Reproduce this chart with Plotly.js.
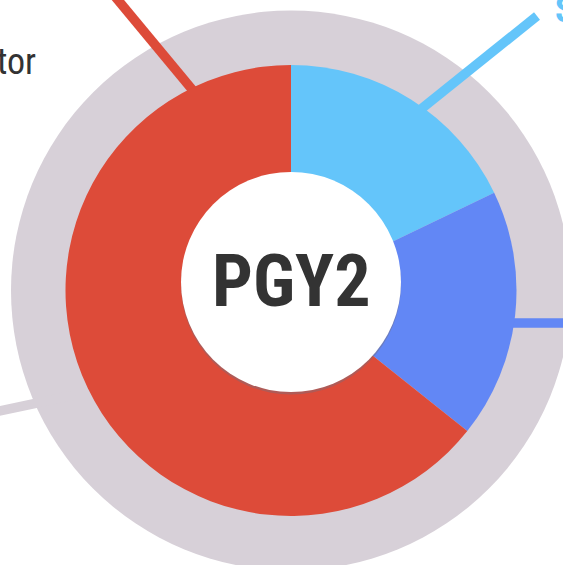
<!DOCTYPE html>
<html>
<head>
<meta charset="utf-8">
<script src="https://cdn.plot.ly/plotly-3.0.1.min.js"></script>
<style>
  html, body { margin: 0; padding: 0; background: #ffffff; }
  #chart { width: 563px; height: 565px; }
</style>
</head>
<body>
<div id="chart"></div>
<script>
// ---- data ----
const categories = ["Specialist", "Resident", "Preceptor"];
const values = [5, 5, 18];
const sliceColors = ["#64c5fa", "#6287f5", "#dd4b39"];
const centerLabel = "PGY2";
const leftLabel = "Preceptor";
const rightLabel = "S";

// ---- layout helpers (pixel -> paper) ----
const W = 563, H = 565;
const px = x => x / W;
const py = y => 1 - y / H;

const CX = 291, CY = 290.5, R = 225.5;     // donut
const RING_R = 280;                          // outer grey ring
const RING_COLOR = "#d7d0d8";
const TEXT_COLOR = "#333333";
const NARROW = "Liberation Sans Narrow, Roboto Condensed, Arial Narrow, Roboto, sans-serif";

const trace = {
  type: "pie",
  labels: categories,
  values: values,
  sort: false,
  direction: "clockwise",
  rotation: 0,
  hole: 0,
  textinfo: "none",
  hoverinfo: "label+value+percent",
  showlegend: false,
  marker: { colors: sliceColors, line: { width: 0 } },
  domain: { x: [px(CX - R), px(CX + R)], y: [py(CY + R), py(CY - R)] }
};

function line(x0, y0, x1, y1, color) {
  return { type: "line", xref: "paper", yref: "paper", layer: "below",
    x0: px(x0), y0: py(y0), x1: px(x1), y1: py(y1),
    line: { color: color, width: 9.5 } };
}

const shapes = [
  { type: "circle", xref: "paper", yref: "paper", layer: "below",
    x0: px(CX - RING_R), x1: px(CX + RING_R), y0: py(CY + RING_R), y1: py(CY - RING_R),
    fillcolor: RING_COLOR, line: { width: 0 } },
  line(205, 105, 98, -24, sliceColors[2]),
  line(400, 126, 537, 16, sliceColors[0]),
  line(495, 323, 580, 323, sliceColors[1]),
  line(75, 395, -10, 413, RING_COLOR),
  // shadow of centre disc
  { type: "circle", xref: "paper", yref: "paper", layer: "above",
    x0: px(CX - 110), x1: px(CX + 110), y0: py(282 + 112.5), y1: py(282 - 107.5),
    fillcolor: "rgba(120,110,125,0.45)", line: { width: 0 } },
  { type: "circle", xref: "paper", yref: "paper", layer: "above",
    x0: px(CX - 110), x1: px(CX + 110), y0: py(282 + 110), y1: py(282 - 110),
    fillcolor: "#ffffff", line: { width: 0 } }
];

const annotations = [
  { text: "<b>" + centerLabel + "</b>", xref: "paper", yref: "paper",
    x: px(CX), y: py(281), xanchor: "center", yanchor: "middle", showarrow: false,
    font: { family: NARROW, size: 72, color: TEXT_COLOR } },
  { text: leftLabel, xref: "paper", yref: "paper",
    x: px(38), y: py(62), xanchor: "right", yanchor: "middle", showarrow: false,
    font: { family: NARROW, size: 36, color: TEXT_COLOR } },
  { text: "<b>" + rightLabel + "</b>", xref: "paper", yref: "paper",
    x: px(553), y: py(10), xanchor: "left", yanchor: "middle", showarrow: false,
    font: { family: NARROW, size: 36, color: sliceColors[0] } }
];

const layout = {
  width: W, height: H,
  margin: { l: 0, r: 0, t: 0, b: 0 },
  paper_bgcolor: "#ffffff",
  plot_bgcolor: "#ffffff",
  showlegend: false,
  shapes: shapes,
  annotations: annotations
};

Plotly.newPlot("chart", [trace], layout, { displayModeBar: false, staticPlot: true });
</script>
</body>
</html>
